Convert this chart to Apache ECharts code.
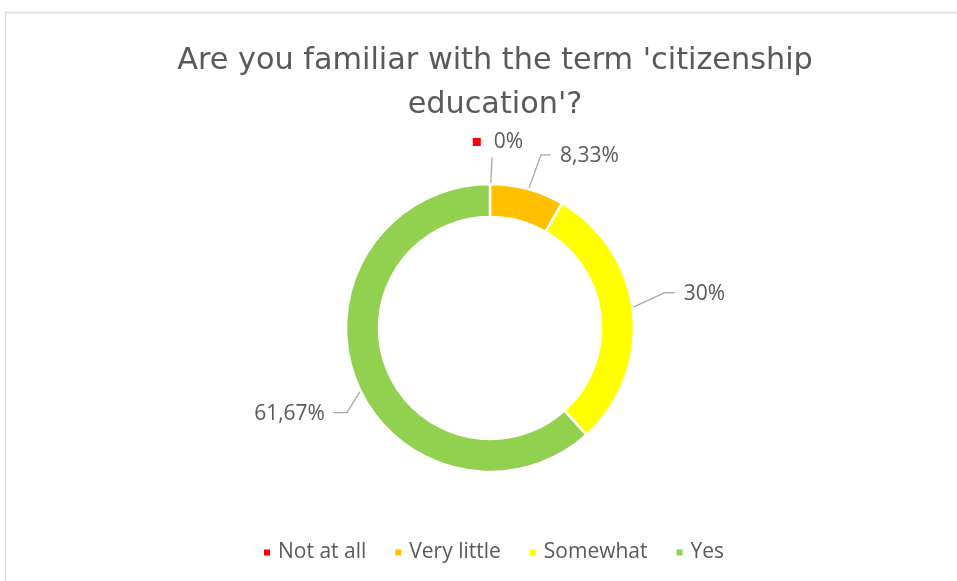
<!DOCTYPE html>
<html>
<head>
<meta charset="utf-8">
<script src="https://cdn.jsdelivr.net/npm/echarts@6/dist/echarts.min.js"></script>
<style>
  html, body { margin: 0; padding: 0; background: #fff; }
  #chart { width: 957px; height: 581px; }
</style>
</head>
<body>
<div id="chart"></div>
<script>
// Survey answers and their shares in percent
const categories = ['Not at all', 'Very little', 'Somewhat', 'Yes'];
const shares = [0, 8.33, 30, 61.67];
const sliceColors = ['#FF0000', '#FFC000', '#FFFF00', '#92D050'];

// Ring geometry and leader-line styling
const CX = 490, CY = 328, R_IN = 111, R_OUT = 144;
const R_MID = (R_IN + R_OUT) / 2;
const FONT = '"Open Sans", sans-serif';
const TITLE_FONT = '"DejaVu Sans", "Open Sans", sans-serif';
const TEXT = '#595959';
// elbow offset from the ring middle, then horizontal run of each leader
const leaders = [
  { dx: 2, dy: -43, run: 0 },
  { dx: 18, dy: -50, run: 10 },
  { dx: 48, dy: -22, run: 10 },
  { dx: -24, dy: 39, run: -14 }
];

const total = shares.reduce((a, b) => a + b, 0);
function midAngle(i) {
  let before = 0;
  for (let k = 0; k < i; k++) before += shares[k];
  const mid = before + shares[i] / 2;
  return (90 - mid / total * 360) * Math.PI / 180;
}
function fmt(v) { return String(v).replace('.', ',') + '%'; }

const chart = echarts.init(document.getElementById('chart'), null, { renderer: 'canvas' });

chart.setOption({
  backgroundColor: '#ffffff',
  animation: false,
  title: {
    text: "Are you familiar with the term 'citizenship\neducation'?",
    left: CX,
    textAlign: 'center',
    top: 34,
    textStyle: { fontFamily: TITLE_FONT, fontSize: 30.3, fontWeight: 'normal', color: TEXT, lineHeight: 44 }
  },
  legend: {
    data: categories,
    left: 257,
    top: 537,
    icon: 'rect',
    itemWidth: 8,
    itemHeight: 8,
    itemGap: 27,
    textStyle: { fontFamily: FONT, fontSize: 21, color: TEXT, padding: [0, 0, 0, 2] }
  },
  graphic: [{
    type: 'rect',
    shape: { x: 5.5, y: 12.5, width: 1000, height: 700 },
    style: { fill: 'none', stroke: '#d9d9d9', lineWidth: 1.3 },
    silent: true
  }],
  series: [{
    type: 'pie',
    center: [CX, CY],
    radius: [R_IN, R_OUT],
    startAngle: 90,
    clockwise: true,
    avoidLabelOverlap: false,
    itemStyle: { borderColor: '#ffffff', borderWidth: 2.5 },
    data: categories.map((name, i) => ({
      name: name,
      value: shares[i],
      itemStyle: { color: sliceColors[i] }
    })),
    label: {
      show: true,
      position: 'outside',
      fontFamily: FONT,
      fontSize: 21,
      color: TEXT,
      formatter: p => p.dataIndex === 0 ? '{key|}{val|' + fmt(p.value) + '}' : fmt(p.value),
      rich: {
        key: { width: 8, height: 8, backgroundColor: sliceColors[0], verticalAlign: 'middle' },
        val: { fontFamily: FONT, fontSize: 21, color: TEXT, padding: [0, 0, 0, 13] }
      }
    },
    labelLine: { show: true, lineStyle: { color: '#a6a6a6', width: 1.3 } },
    labelLayout: function (p) {
      const i = p.dataIndex;
      const a = midAngle(i);
      const sx = CX + R_MID * Math.cos(a);
      const sy = CY - R_MID * Math.sin(a);
      const L = leaders[i];
      const ex = sx + L.dx, ey = sy + L.dy;
      if (L.run === 0) {
        return {
          x: ex + 6, y: ey - 5,
          align: 'center', verticalAlign: 'bottom',
          labelLinePoints: [[sx, sy], [ex, ey]]
        };
      }
      const hx = ex + L.run;
      const right = L.run > 0;
      return {
        x: hx + (right ? 9 : -8), y: ey + 1,
        align: right ? 'left' : 'right', verticalAlign: 'middle',
        labelLinePoints: [[sx, sy], [ex, ey], [hx, ey]]
      };
    }
  }]
});
</script>
</body>
</html>
